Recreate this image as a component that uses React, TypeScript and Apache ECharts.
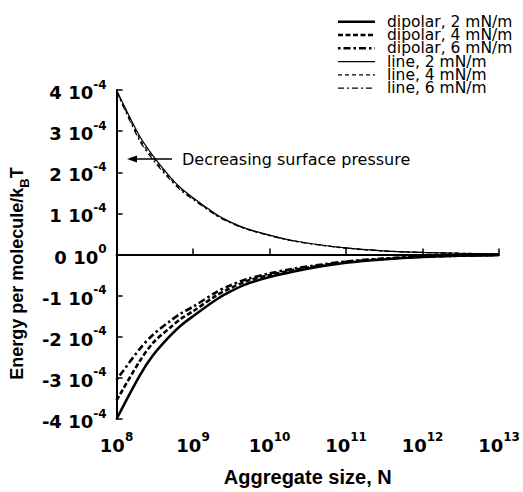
import { useEffect, useRef } from "react";
import * as echarts from "echarts";

// Aggregate size N (x axis, log scale)
const aggregateSize = [1e8, 2e8, 3e8, 5e8, 7e8, 1e9, 2e9, 3e9, 5e9, 1e10, 2e10, 5e10, 1e11, 3e11, 1e12, 3e12, 1e13];

// Energy per molecule / kBT, in units of 1e-4
const dipolar2 = [-4.0, -2.95, -2.45, -1.98, -1.72, -1.5, -1.1, -0.91, -0.72, -0.55, -0.42, -0.28, -0.2, -0.12, -0.06, -0.03, -0.012];
const dipolar4 = [-3.55, -2.6, -2.15, -1.78, -1.56, -1.38, -1.0, -0.83, -0.65, -0.5, -0.38, -0.26, -0.18, -0.11, -0.055, -0.03, -0.012];
const dipolar6 = [-3.05, -2.3, -1.95, -1.62, -1.43, -1.27, -0.92, -0.76, -0.6, -0.46, -0.35, -0.24, -0.17, -0.1, -0.05, -0.03, -0.012];
const line2 = [4.0, 2.88, 2.4, 1.89, 1.61, 1.38, 0.98, 0.8, 0.63, 0.47, 0.34, 0.225, 0.16, 0.09, 0.05, 0.03, 0.015];
const line4 = [3.98, 2.82, 2.35, 1.85, 1.58, 1.36, 0.96, 0.79, 0.62, 0.465, 0.335, 0.222, 0.157, 0.088, 0.05, 0.03, 0.015];
const line6 = [3.96, 2.77, 2.3, 1.82, 1.55, 1.34, 0.95, 0.78, 0.615, 0.46, 0.33, 0.22, 0.155, 0.087, 0.05, 0.03, 0.015];

const UNIT = 1e-4;
const seriesNames = ["dipolar, 2 mN/m", "dipolar, 4 mN/m", "dipolar, 6 mN/m", "line, 2 mN/m", "line, 4 mN/m", "line, 6 mN/m"];
const annotation = "Decreasing surface pressure";

const FONT = "'Liberation Sans', Arial, Helvetica, sans-serif";
const WIDE = "'DejaVu Sans', Verdana, sans-serif";

export default function App() {
  const ref = useRef<HTMLDivElement>(null);
  useEffect(() => {
    document.body.style.margin = "0";
    if (!ref.current) return;
    const chart = echarts.init(ref.current, null, { renderer: "svg" });

    const styles: { width: number; dash: number[] | null }[] = [
      { width: 2.6, dash: null },
      { width: 2.6, dash: [5, 2.5] },
      { width: 2.6, dash: [2.5, 3, 7, 3] },
      { width: 1.2, dash: null },
      { width: 1.2, dash: [4, 3] },
      { width: 1.2, dash: [6, 3, 2, 3] },
    ];
    const values = [dipolar2, dipolar4, dipolar6, line2, line4, line6];

    const series: any[] = seriesNames.map((name, k) => ({
      name,
      type: "line",
      data: aggregateSize.map((n, i) => [n, values[k][i] * UNIT]),
      symbol: "none",
      smooth: 0.3,
      lineStyle: { color: "#000", width: styles[k].width, type: styles[k].dash || "solid" },
      itemStyle: { color: "#000" },
    }));
    series[0].markLine = {
      silent: true,
      symbol: "none",
      label: { show: false },
      lineStyle: { color: "#000", width: 1.2, type: "solid" },
      data: [{ yAxis: 0 }],
    };

    // legend drawn as graphic elements
    const legendEls: any[] = [];
    seriesNames.forEach((name, k) => {
      const y = 21.7 + 13.3 * k;
      legendEls.push({
        type: "line",
        shape: { x1: 338, y1: y, x2: 375, y2: y },
        style: { stroke: "#000", lineWidth: styles[k].width, lineDash: styles[k].dash || undefined },
      });
      legendEls.push({
        type: "text",
        x: 387,
        y,
        style: { text: name, fontFamily: WIDE, fontSize: 15.5, fill: "#000", verticalAlign: "middle", align: "left" },
      });
    });

    const tickRich = {
      b: { fontFamily: WIDE, fontSize: 18, fontWeight: "bold", color: "#000", lineHeight: 23, verticalAlign: "bottom" },
      s: { fontFamily: WIDE, fontSize: 12, fontWeight: "bold", color: "#000", lineHeight: 12, verticalAlign: "top" },
    };
    chart.setOption({
      animation: false,
      backgroundColor: "#fff",
      grid: { left: 114, right: 24, top: 90, bottom: 68, containLabel: false },
      xAxis: {
        type: "log",
        logBase: 10,
        min: 1e8,
        max: 1e13,
        interval: 1,
        name: "Aggregate size, N",
        nameLocation: "middle",
        nameGap: 48,
        nameTextStyle: { fontFamily: FONT, fontSize: 20, fontWeight: "bold", color: "#000" },
        axisLine: { lineStyle: { color: "#000", width: 2 } },
        axisTick: { inside: true, length: 6, lineStyle: { color: "#000", width: 1.5 } },
        minorTick: { show: false },
        splitLine: { show: false },
        axisLabel: {
          margin: 12,
          formatter: (v: number) => `{b|10}{s|${Math.round(Math.log10(v))}}`,
          rich: tickRich,
        },
      },
      yAxis: {
        type: "value",
        min: -4 * UNIT,
        max: 4 * UNIT,
        interval: UNIT,
        name: "{a|Energy per molecule/k}{sub|B}{a|T}",
        nameLocation: "middle",
        nameGap: 71,
        nameRotate: 90,
        nameTextStyle: {
          fontFamily: FONT,
          fontSize: 18,
          fontWeight: "bold",
          color: "#000",
          padding: [0, 38, 0, 0],
          rich: {
            a: { fontFamily: FONT, fontSize: 18, fontWeight: "bold", color: "#000", lineHeight: 20, verticalAlign: "top" },
            sub: { fontFamily: FONT, fontSize: 13, fontWeight: "bold", color: "#000", lineHeight: 23, verticalAlign: "bottom" },
          },
        },
        axisLine: { show: true, lineStyle: { color: "#000", width: 2 } },
        axisTick: { show: true, inside: true, length: 6, lineStyle: { color: "#000", width: 1.5 } },
        splitLine: { show: false },
        axisLabel: {
          margin: 10,
          formatter: (v: number) => {
            const k = Math.round(v / UNIT);
            return k === 0 ? `{b|0 10}{s|0}` : `{b|${k} 10}{s|-4}`;
          },
          rich: tickRich,
        },
      },
      graphic: [
        { type: "line", shape: { x1: 172, y1: 159, x2: 132, y2: 159 }, style: { stroke: "#000", lineWidth: 1.5 } },
        { type: "polygon", shape: { points: [[127, 159], [137, 155.5], [137, 162.5]] }, style: { fill: "#000" } },
        {
          type: "text",
          x: 182,
          y: 159,
          style: { text: annotation, fontFamily: WIDE, fontSize: 16, fill: "#000", verticalAlign: "middle", align: "left" },
        },
        ...legendEls,
      ],
      series,
    });
    return () => chart.dispose();
  }, []);
  return <div ref={ref} style={{ width: 523, height: 492 }} />;
}
